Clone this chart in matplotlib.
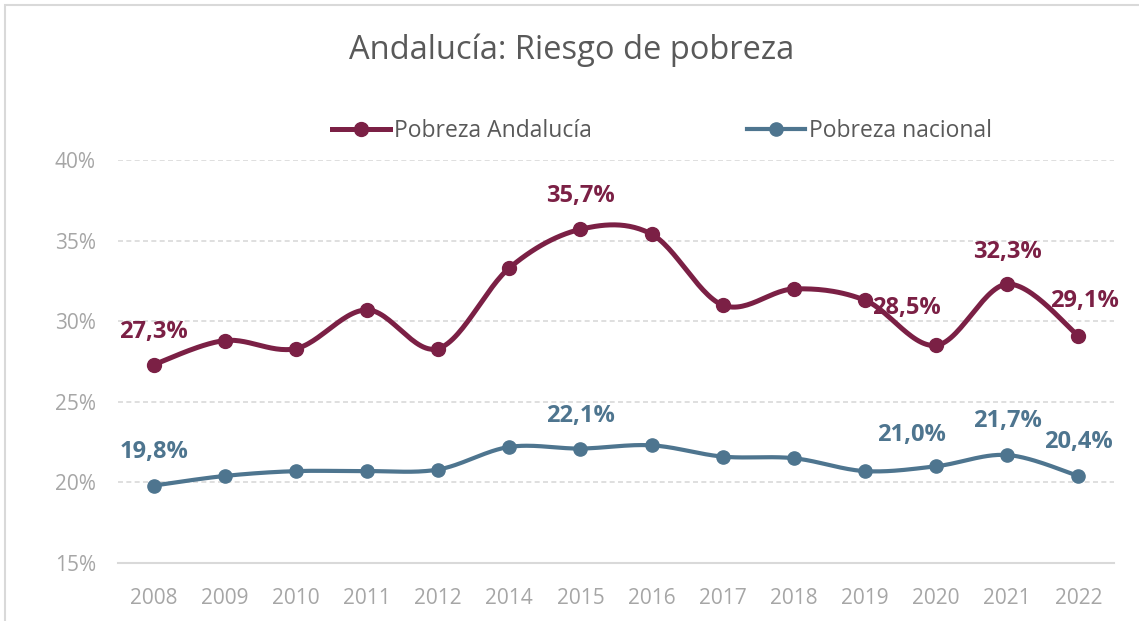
import numpy as np
import matplotlib
matplotlib.use("Agg")
import matplotlib.pyplot as plt
from matplotlib.patches import Rectangle

years = ["2008", "2009", "2010", "2011", "2012", "2014", "2015", "2016",
         "2017", "2018", "2019", "2020", "2021", "2022"]
andalucia = [27.3, 28.8, 28.3, 30.7, 28.3, 33.3, 35.7, 35.4, 31.0, 32.0, 31.3, 28.5, 32.3, 29.1]
nacional = [19.8, 20.4, 20.7, 20.7, 20.8, 22.2, 22.1, 22.3, 21.6, 21.5, 20.7, 21.0, 21.7, 20.4]
yticks = [15, 20, 25, 30, 35, 40]

labels_and = {0: (0, 33), 6: (0, 33), 11: (-30, 37), 12: (0, 32), 13: (6, 35)}
labels_nac = {0: (0, 34), 6: (0, 33), 11: (-25, 31), 12: (0, 34), 13: (0, 34)}

C_AND = "#7B2045"
C_NAC = "#4E758F"
GRID = "#D9D9D9"
TXT = "#595959"
TICK = "#A6A6A6"
FONT = "Open Sans"

plt.rcParams['font.family'] = [FONT, 'DejaVu Sans']


def smooth(x, y, n=30):
    # Excel-style smoothed line (Bezier through the points)
    x = np.asarray(x, float)
    y = np.asarray(y, float)
    P = np.column_stack([x, y])
    out = []
    for i in range(len(P) - 1):
        p0 = P[i - 1] if i > 0 else P[i]
        p1 = P[i]
        p2 = P[i + 1]
        p3 = P[i + 2] if i + 2 < len(P) else P[i + 1]
        c1 = p1 + (p2 - p0) / 6.0
        c2 = p2 - (p3 - p1) / 6.0
        t = np.linspace(0, 1, n)[:, None]
        seg = ((1 - t) ** 3) * p1 + 3 * ((1 - t) ** 2) * t * c1 + 3 * (1 - t) * t ** 2 * c2 + t ** 3 * p2
        out.append(seg if i == 0 else seg[1:])
    s = np.vstack(out)
    return s[:, 0], s[:, 1]


W, H = 1139, 621
fig = plt.figure(figsize=(W / 100, H / 100), dpi=100)
fig.patches.append(Rectangle((5 / W, -0.1), 1.2, 1 - 5 / H + 0.1, transform=fig.transFigure,
                             fill=False, edgecolor=GRID, linewidth=1.5))

left, right = 118 / W, 1114 / W
bottom, top = 1 - 563 / H, 1 - 160 / H
ax = fig.add_axes([left, bottom, right - left, top - bottom])

x = np.arange(len(years))
for vals, col, lw, ms, lab in [(andalucia, C_AND, 3.6, 10, "Pobreza Andalucía"),
                               (nacional, C_NAC, 3.0, 9.5, "Pobreza nacional")]:
    sx, sy = smooth(x, vals)
    ax.plot(sx, sy, color=col, lw=lw, solid_capstyle='round', zorder=3)
    ax.plot(x, vals, 'o', color=col, ms=ms, zorder=4)
    ax.plot([], [], color=col, lw=lw, marker='o', ms=ms, label=lab)

for d, vals, col in [(labels_and, andalucia, C_AND), (labels_nac, nacional, C_NAC)]:
    for i, (dx, dy) in d.items():
        ax.annotate(f"{vals[i]:.1f}%".replace(".", ","), (x[i], vals[i]),
                    xytext=(dx, dy), textcoords='offset pixels', ha='center', va='center',
                    fontsize=17, fontweight='bold', color=col, zorder=5)

ax.set_xlim(-0.5, len(years) - 0.5)
ax.set_ylim(15, 40)
ax.set_yticks(yticks)
ax.set_yticklabels([f"{v}%" for v in yticks])
ax.set_xticks(x)
ax.set_xticklabels(years)
ax.tick_params(axis='both', length=0, labelsize=15, labelcolor=TICK)
ax.tick_params(axis='y', pad=16)
ax.tick_params(axis='x', pad=18)
for sp in ['left', 'right', 'top']:
    ax.spines[sp].set_visible(False)
ax.spines['bottom'].set_color(GRID)
ax.spines['bottom'].set_linewidth(1.5)
for v in yticks[1:]:
    ax.axhline(v, color=GRID, lw=1.2, ls=(0, (3, 2)), zorder=1)

fig.text(572 / W, 1 - 50 / H, "Andalucía: Riesgo de pobreza", ha='center', va='center',
         fontsize=23.5, color=TXT)

leg = ax.legend(loc='center', bbox_to_anchor=(662 / W, 1 - 131 / H), bbox_transform=fig.transFigure,
                ncol=2, frameon=False, fontsize=16.5, handlelength=2.5, handletextpad=0.17,
                columnspacing=6.8, borderpad=0)
for t in leg.get_texts():
    t.set_color(TXT)

fig.savefig("out.png", dpi=100)
